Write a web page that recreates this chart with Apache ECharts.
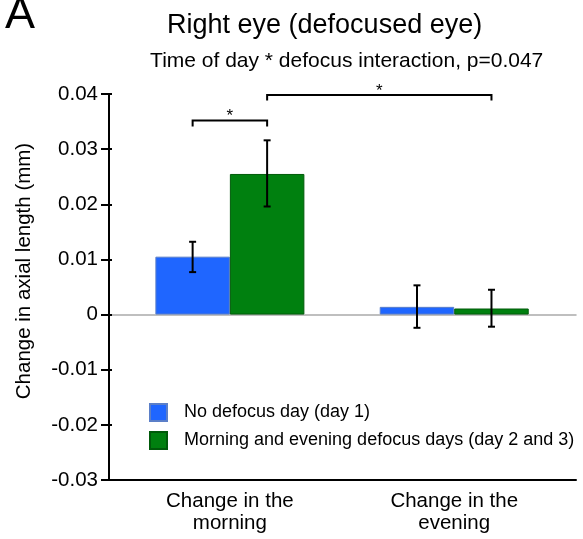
<!DOCTYPE html>
<html>
<head>
<meta charset="utf-8">
<script src="https://cdn.jsdelivr.net/npm/echarts@6/dist/echarts.min.js"></script>
<style>html,body{margin:0;padding:0;background:#fff;}#c{width:583px;height:539px;}</style>
</head>
<body>
<div id="c"></div>
<script>
const categories = ['Change in the\nmorning', 'Change in the\nevening'];
const seriesNames = ['No defocus day (day 1)', 'Morning and evening defocus days (day 2 and 3)'];
const noDefocus = [0.0105, 0.0014];
const defocus = [0.0255, 0.0011];
const noDefocusLow = [0.0077, -0.0024];
const noDefocusHigh = [0.0132, 0.0053];
const defocusLow = [0.0196, -0.0022];
const defocusHigh = [0.0316, 0.0045];
const yMin = -0.03, yMax = 0.04, yStep = 0.01;
// bracket: [cat1, series1, cat2, series2, level, tickEnd]
const brackets = [
  [0, 0, 0, 1, 0.0352, 0.0341],
  [0, 1, 1, 1, 0.0398, 0.0388]
];
const bracketLabels = ['*', '*'];

const FONT = 'Liberation Sans, Arial, sans-serif';
const AX_FS = 20.5;
const BAR_W = 74.5;
const colors = ['#1f66ff', '#00800f'];

const errData = [];
for (let i = 0; i < categories.length; i++) {
  errData.push([i, noDefocusLow[i], noDefocusHigh[i], 0]);
  errData.push([i, defocusLow[i], defocusHigh[i], 1]);
}

function xFor(api, cat, s) {
  const c = api.coord([cat, 0]);
  return c[0] + (s === 0 ? -1 : 1) * BAR_W / 2;
}

const chart = echarts.init(document.getElementById('c'), null, {renderer: 'canvas'});
chart.setOption({
  animation: false,
  textStyle: {fontFamily: FONT},
  graphic: [
    {type: 'text', left: 5, top: -7, style: {text: 'A', font: '45px ' + FONT, fill: '#000'}},
    {type: 'text', x: 324.6, y: 25.3, style: {text: 'Right eye (defocused eye)', font: '27px ' + FONT, fill: '#000', align: 'center', verticalAlign: 'middle'}},
    {type: 'text', x: 346.7, y: 61.5, style: {text: 'Time of day * defocus interaction, p=0.047', font: '21px ' + FONT, fill: '#000', align: 'center', verticalAlign: 'middle'}}
  ],
  legend: {
    orient: 'vertical', left: 149, top: 403, padding: 0, itemWidth: 17, itemHeight: 17, itemGap: 9,
    data: seriesNames,
    textStyle: {fontSize: 18, lineHeight: 17, color: '#000', fontFamily: FONT, padding: [0, 0, 0, 12]},
    icon: 'rect'
  },
  grid: [
    {left: 117.7, right: 16.6, top: 94, bottom: 59},
    {left: 109, right: 7, top: 94, bottom: 59}
  ],
  xAxis: [
    {type: 'category', gridIndex: 0, data: categories,
     axisLine: {show: false}, axisTick: {show: false},
     axisLabel: {fontSize: AX_FS, color: '#000', lineHeight: 22, margin: 10, fontFamily: FONT, interval: 0}},
    {type: 'value', gridIndex: 1, min: 0, max: 1, position: 'bottom',
     axisLine: {onZero: false, lineStyle: {color: '#000', width: 2}},
     axisTick: {show: false}, axisLabel: {show: false}, splitLine: {show: false}},
    {type: 'value', gridIndex: 1, min: 0, max: 1, position: 'top',
     axisLine: {onZero: true, lineStyle: {color: '#aaaaaa', width: 1.5}},
     axisTick: {show: false}, axisLabel: {show: false}, splitLine: {show: false}}
  ],
  yAxis: [
    {type: 'value', gridIndex: 0, min: yMin, max: yMax, interval: yStep, show: false},
    {type: 'value', gridIndex: 1, min: yMin, max: yMax, interval: yStep, position: 'left',
     name: 'Change in axial length (mm)', nameLocation: 'middle', nameGap: 74,
     nameTextStyle: {fontSize: AX_FS, color: '#000', fontFamily: FONT, padding: [0, 0, 0, 32]},
     axisLine: {show: true, lineStyle: {color: '#000', width: 2}},
     axisTick: {show: true, length: 8, lineStyle: {color: '#000', width: 2}},
     axisLabel: {fontSize: AX_FS, color: '#000', margin: 11, fontFamily: FONT,
       formatter: v => Math.abs(v) < 1e-9 ? '0' : v.toFixed(2)},
     splitLine: {show: false}},
    {type: 'value', gridIndex: 1, min: yMin, max: yMax, interval: yStep, position: 'left', offset: 0,
     axisLine: {show: false},
     axisTick: {show: true, inside: true, length: 3, lineStyle: {color: '#000', width: 2}},
     axisLabel: {show: false}, splitLine: {show: false}}
  ],
  series: [
    {name: seriesNames[0], type: 'bar', xAxisIndex: 0, yAxisIndex: 0, data: noDefocus,
     barWidth: BAR_W, barGap: '0%', itemStyle: {color: colors[0], borderColor: '#5b7fc8', borderWidth: 1}},
    {name: seriesNames[1], type: 'bar', xAxisIndex: 0, yAxisIndex: 0, data: defocus,
     barWidth: BAR_W, barGap: '0%', itemStyle: {color: colors[1], borderColor: '#005a0a', borderWidth: 1}},
    {type: 'custom', xAxisIndex: 0, yAxisIndex: 0, data: errData, z: 5, silent: true,
     renderItem: function (params, api) {
       const s = api.value(3);
       const x = xFor(api, api.value(0), s);
       const y1 = api.coord([api.value(0), api.value(1)])[1];
       const y2 = api.coord([api.value(0), api.value(2)])[1];
       const cap = 3.5;
       const st = {stroke: '#000', lineWidth: 2};
       return {type: 'group', children: [
         {type: 'line', shape: {x1: x, y1: y1, x2: x, y2: y2}, style: st},
         {type: 'line', shape: {x1: x - cap, y1: y1, x2: x + cap, y2: y1}, style: st},
         {type: 'line', shape: {x1: x - cap, y1: y2, x2: x + cap, y2: y2}, style: st}
       ]};
     }},
    {type: 'custom', xAxisIndex: 0, yAxisIndex: 0, data: brackets, z: 5, silent: true,
     renderItem: function (params, api) {
       const xa = xFor(api, api.value(0), api.value(1));
       const xb = xFor(api, api.value(2), api.value(3));
       const yl = api.coord([0, api.value(4)])[1];
       const yt = api.coord([0, api.value(5)])[1];
       return {type: 'group', children: [
         {type: 'polyline', shape: {points: [[xa, yt], [xa, yl], [xb, yl], [xb, yt]]},
          style: {stroke: '#000', lineWidth: 2, fill: null}},
         {type: 'text', x: (xa + xb) / 2, y: yl - 4,
          style: {text: bracketLabels[params.dataIndex], font: '17px ' + FONT, fill: '#000', align: 'center', verticalAlign: 'middle'}}
       ]};
     }}
  ]
});
</script>
</body>
</html>
